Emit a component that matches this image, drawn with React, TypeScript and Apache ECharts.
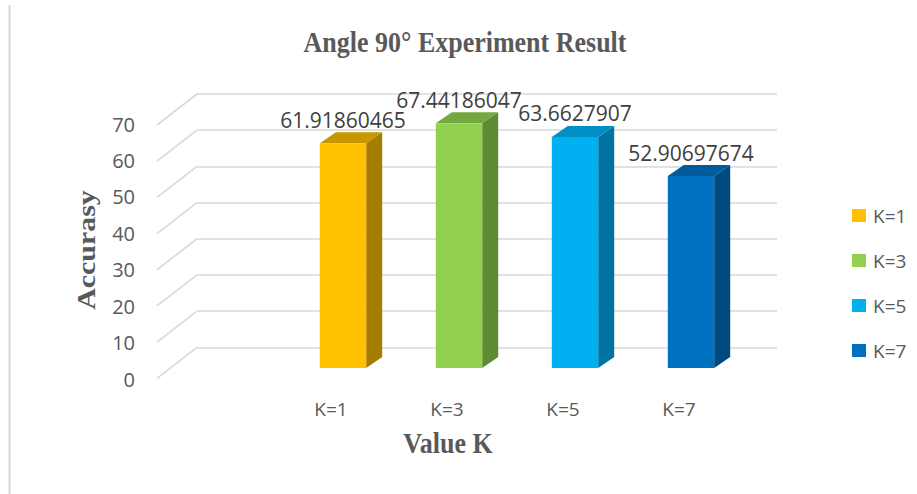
import React, { useEffect, useRef } from "react";
import * as echarts from "echarts";

// Categories along the floor (first slot is left empty, as in the original layout)
const categories = ["", "K=1", "K=3", "K=5", "K=7"];
const seriesNames = ["K=1", "K=3", "K=5", "K=7"];
const accuracy = [61.91860465, 67.44186047, 63.6627907, 52.90697674];
const yTicks = [0, 10, 20, 30, 40, 50, 60, 70];

const frontColors = ["#FFC000", "#92D050", "#00B0F0", "#0070C0"];
const sideColors = ["#A67C00", "#5F8A34", "#0073A0", "#004A80"];
const topColors = ["#C79700", "#74A83F", "#008FC4", "#005A9C"];

const TEXT = "#595959";
const GRID_LINE = "#D9D9D9";
const SANS = "'Open Sans', 'Noto Sans', sans-serif";
const SERIF = "'Liberation Serif', 'Times New Roman', serif";

// Oblique projection offsets (pixels)
const BAR_DX = 16;
const BAR_DY = -11;
const WALL_DX = -40;
const WALL_DY = 31;

export default function App() {
  const ref = useRef<HTMLDivElement>(null);

  useEffect(() => {
    document.body.style.margin = "0";
    if (!ref.current) return;
    const chart = echarts.init(ref.current, null, { renderer: "svg" });

    const barSeries = seriesNames.map((name, i) => ({
      type: "custom",
      name,
      xAxisIndex: 2,
      yAxisIndex: 2,
      clip: false,
      itemStyle: { color: frontColors[i] },
      data: [[i + 1, accuracy[i]]],
      renderItem: (params: any, api: any) => {
        const cat = api.value(0);
        const val = api.value(1);
        const [cx, yTop] = api.coord([cat, val]);
        const yBase = api.coord([cat, 0])[1];
        const w = api.size([1, 0])[0] * 0.4;
        const x0 = cx - w / 2;
        const x1 = cx + w / 2;
        return {
          type: "group",
          children: [
            {
              type: "polygon",
              shape: {
                points: [
                  [x1, yTop],
                  [x1 + BAR_DX, yTop + BAR_DY],
                  [x1 + BAR_DX, yBase + BAR_DY],
                  [x1, yBase],
                ],
              },
              style: { fill: sideColors[i] },
            },
            {
              type: "polygon",
              shape: {
                points: [
                  [x0, yTop],
                  [x0 + BAR_DX, yTop + BAR_DY],
                  [x1 + BAR_DX, yTop + BAR_DY],
                  [x1, yTop],
                ],
              },
              style: { fill: topColors[i] },
            },
            {
              type: "rect",
              shape: { x: x0, y: yTop, width: w, height: yBase - yTop },
              style: { fill: frontColors[i] },
            },
            {
              type: "text",
              style: {
                text: String(accuracy[i]),
                x: cx,
                y: yTop - 13,
                align: "center",
                verticalAlign: "bottom",
                fontFamily: SANS,
                fontSize: 21,
                fill: "#404040",
              },
            },
          ],
        };
      },
    }));

    chart.setOption({
      animation: false,
      backgroundColor: "#FFFFFF",
      grid: [
        // back wall
        { left: 197, top: 94, width: 580, height: 253.3 },
        // front plane (axis labels)
        { left: 157, top: 124, width: 580, height: 255 },
        // plane through the bars
        { left: 169, top: 114, width: 580, height: 254 },
      ],
      xAxis: [
        { gridIndex: 0, type: "value", min: 0, max: 1, show: false },
        {
          gridIndex: 1,
          type: "category",
          data: categories,
          axisLine: { show: false },
          axisTick: { show: false },
          axisLabel: { color: TEXT, fontSize: 19, fontFamily: SANS, margin: 20 },
        },
        { gridIndex: 2, type: "category", data: categories, show: false },
      ],
      yAxis: [
        {
          gridIndex: 0,
          type: "value",
          min: 0,
          max: 70,
          interval: 10,
          axisLine: { show: false },
          axisTick: { show: false },
          axisLabel: { show: false },
          splitLine: { show: true, lineStyle: { color: GRID_LINE, width: 1.6 } },
        },
        {
          gridIndex: 1,
          type: "value",
          min: 0,
          max: 70,
          interval: 10,
          axisLine: { show: false },
          axisTick: { show: false },
          splitLine: { show: false },
          axisLabel: { color: TEXT, fontSize: 20, fontFamily: SANS, margin: 22 },
        },
        { gridIndex: 2, type: "value", min: 0, max: 70, interval: 10, show: false },
      ],
      legend: {
        data: seriesNames,
        orient: "vertical",
        left: 847,
        top: 201,
        icon: "rect",
        itemWidth: 14,
        itemHeight: 13,
        itemGap: 26,
        textStyle: { color: TEXT, fontSize: 19, fontFamily: SANS, lineHeight: 19, padding: [0, 0, 0, 2] },
      },
      graphic: [
        {
          type: "line",
          shape: { x1: 9.5, y1: 5, x2: 9.5, y2: 494 },
          style: { stroke: GRID_LINE, lineWidth: 2 },
        },
        {
          type: "text",
          x: 465,
          y: 42,
          scaleY: 1.15,
          style: {
            text: "Angle 90° Experiment Result",
            align: "center",
            verticalAlign: "middle",
            fontFamily: SERIF,
            fontWeight: "bold",
            fontSize: 26,
            fill: TEXT,
          },
        },
        {
          type: "text",
          x: 86,
          y: 250,
          rotation: Math.PI / 2,
          scaleX: 1.15,
          style: {
            text: "Accurasy",
            align: "center",
            verticalAlign: "middle",
            fontFamily: SERIF,
            fontWeight: "bold",
            fontSize: 26,
            fill: TEXT,
          },
        },
        {
          type: "text",
          x: 448,
          y: 443,
          scaleY: 1.15,
          style: {
            text: "Value K",
            align: "center",
            verticalAlign: "middle",
            fontFamily: SERIF,
            fontWeight: "bold",
            fontSize: 26,
            fill: TEXT,
          },
        },
      ],
      series: [
        // slanted gridlines on the left side wall
        {
          type: "custom",
          xAxisIndex: 0,
          yAxisIndex: 0,
          clip: false,
          silent: true,
          data: yTicks.map((v) => [0, v]),
          renderItem: (params: any, api: any) => {
            const [x, y] = api.coord([0, api.value(1)]);
            return {
              type: "line",
              shape: { x1: x, y1: y, x2: x + WALL_DX, y2: y + WALL_DY },
              style: { stroke: GRID_LINE, lineWidth: 1.6 },
            };
          },
        },
        ...barSeries,
      ],
    });

    return () => chart.dispose();
  }, []);

  return <div ref={ref} style={{ width: 917, height: 494 }} />;
}
